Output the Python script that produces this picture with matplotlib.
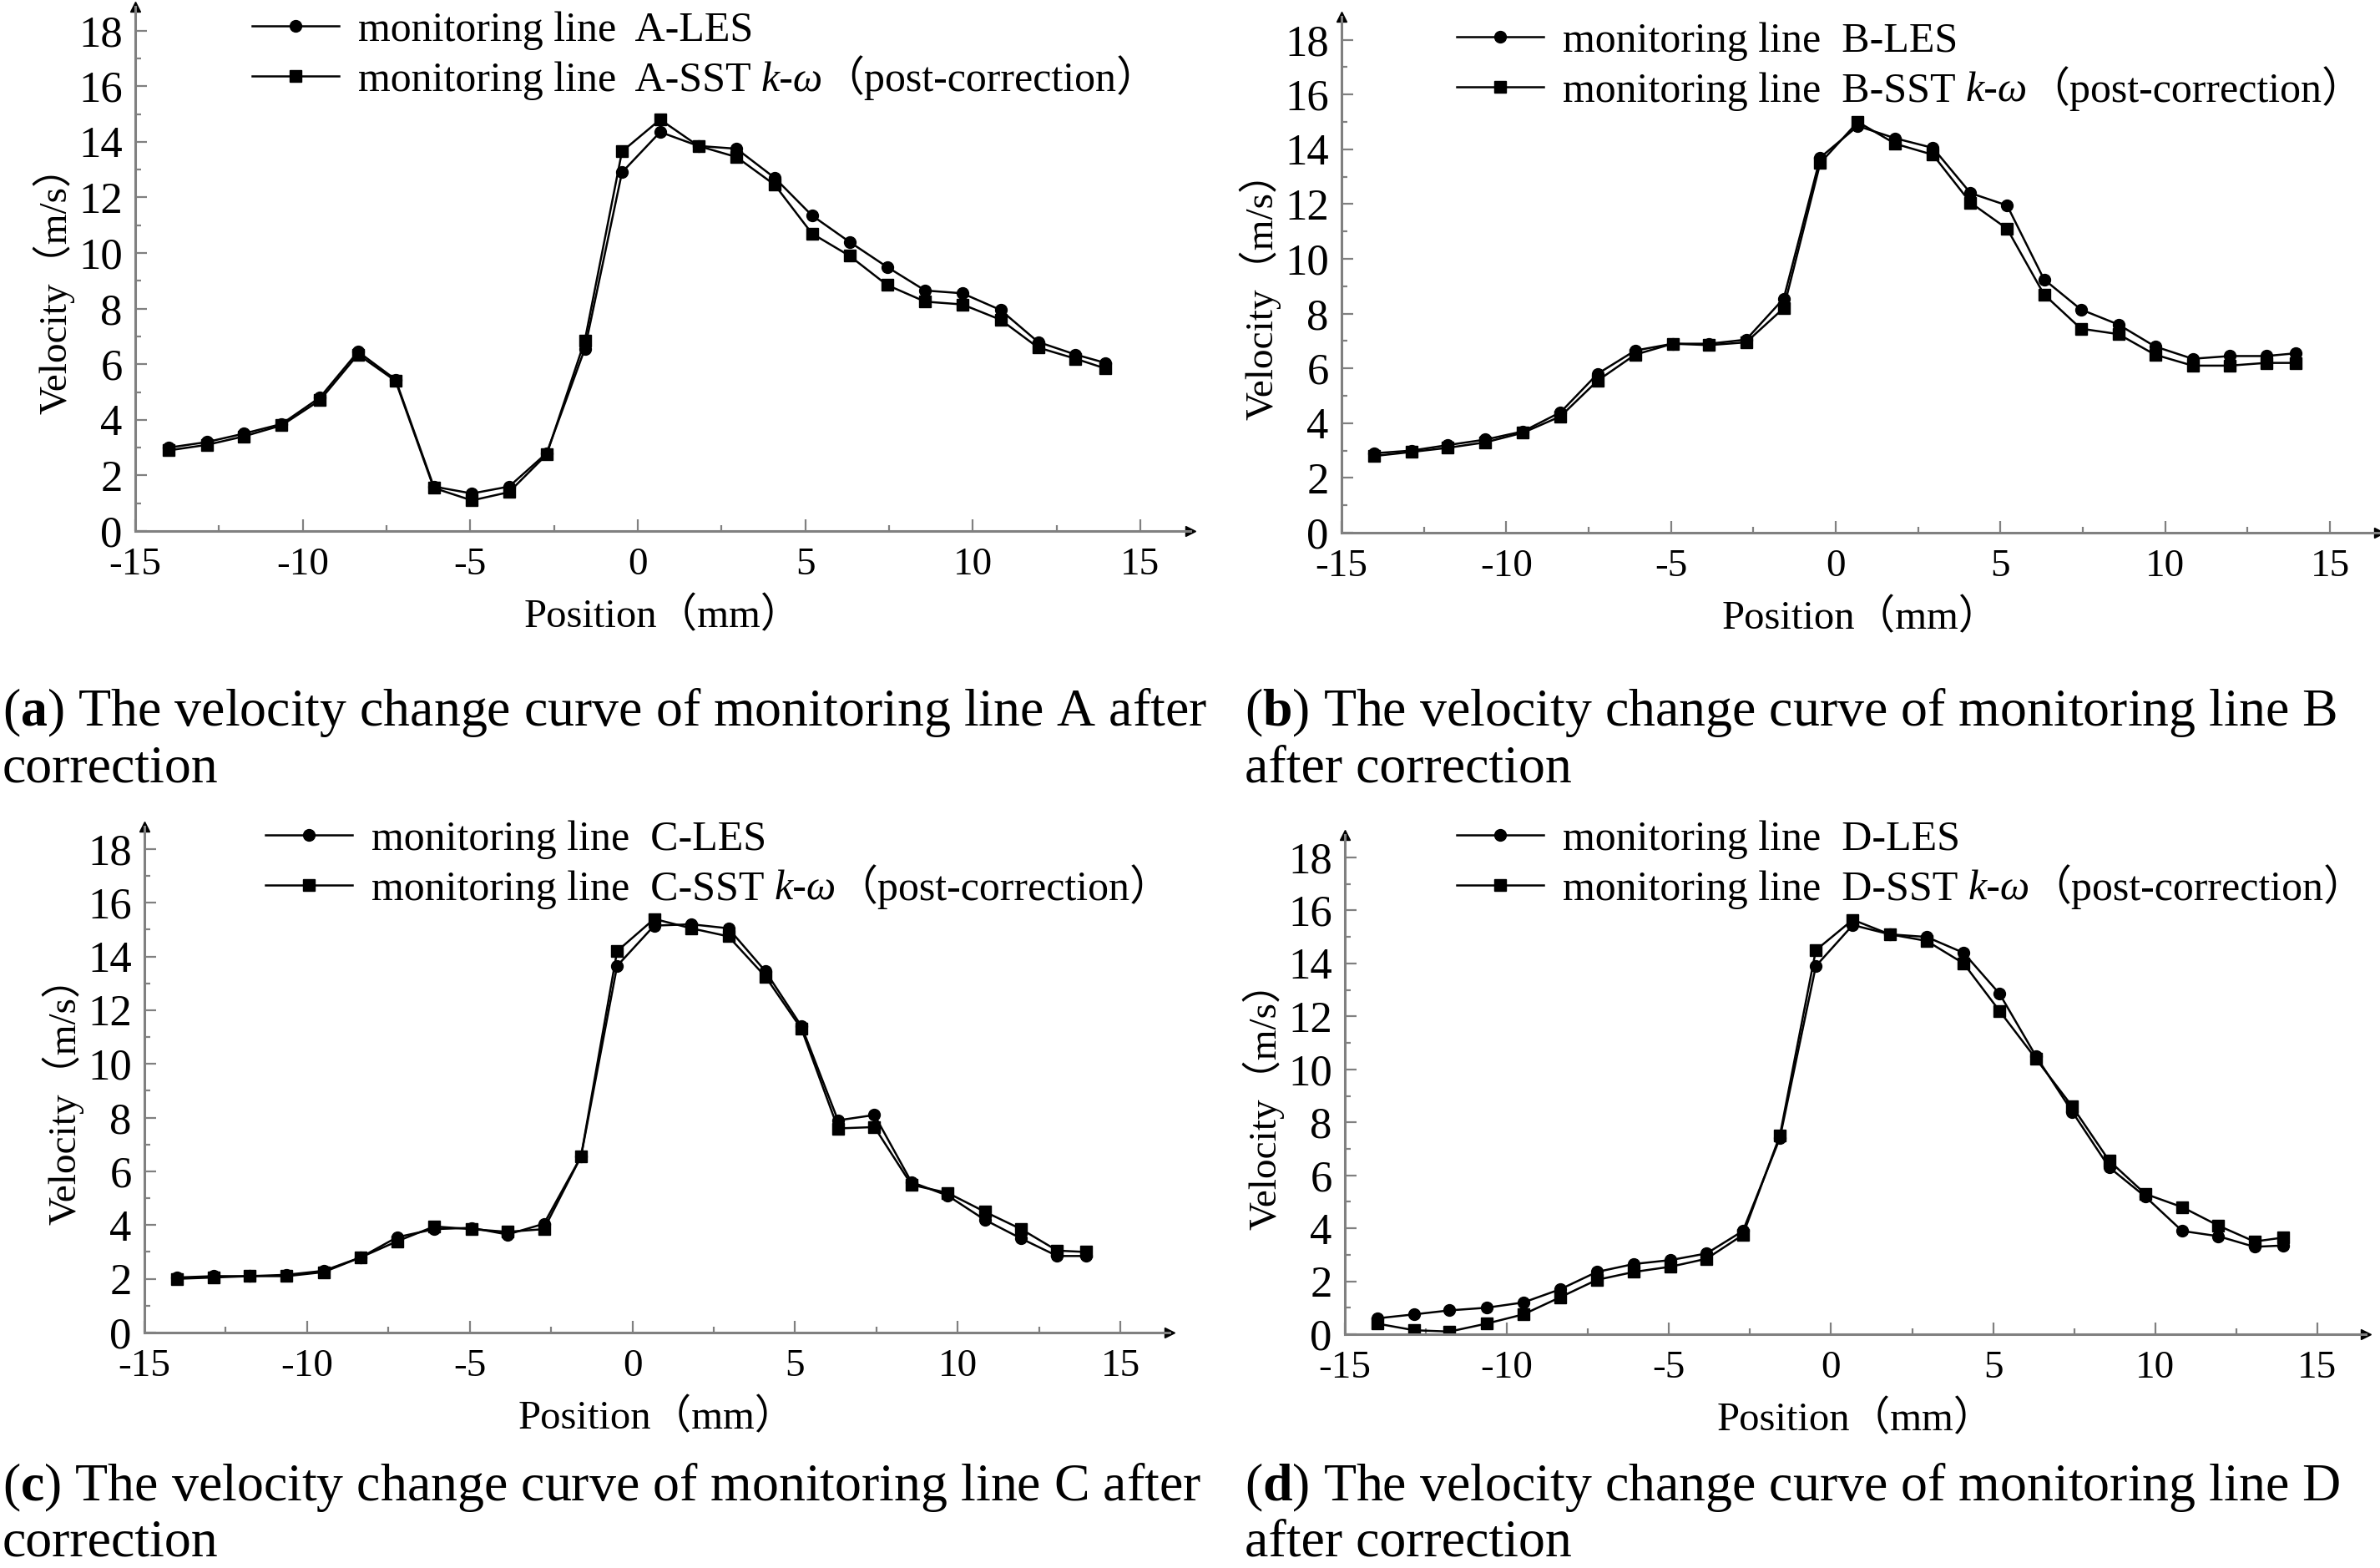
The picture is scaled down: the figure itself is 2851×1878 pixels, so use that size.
import numpy as np
import matplotlib
matplotlib.use('Agg')
import matplotlib.pyplot as plt
from matplotlib.lines import Line2D
from matplotlib.ticker import MultipleLocator

plt.rcParams['font.family'] = ['Liberation Serif', 'Noto Sans CJK SC']
plt.rcParams['mathtext.fontset'] = 'custom'
plt.rcParams['mathtext.rm'] = 'Liberation Serif'
plt.rcParams['mathtext.it'] = 'Liberation Serif:italic'
plt.rcParams['mathtext.bf'] = 'Liberation Serif:bold'

W, H = 2851, 1878

# sampling positions along the monitoring lines (mm)
pos = [-14.0, -12.86, -11.77, -10.63, -9.49, -8.35, -7.23, -6.09, -4.95, -3.84,
       -2.72, -1.58, -0.47, 0.67, 1.81, 2.95, 4.09, 5.20, 6.32, 7.44,
       8.58, 9.69, 10.83, 11.95, 13.06, 13.95]

a_les = [3.0, 3.2, 3.5, 3.85, 4.8, 6.45, 5.45, 1.6, 1.35, 1.6,
         2.8, 6.55, 12.9, 14.35, 13.85, 13.75, 12.7, 11.35, 10.4, 9.5,
         8.65, 8.55, 7.95, 6.8, 6.35, 6.05]
a_sst = [2.9, 3.1, 3.4, 3.8, 4.7, 6.35, 5.4, 1.55, 1.1, 1.4,
         2.75, 6.85, 13.65, 14.8, 13.85, 13.45, 12.45, 10.7, 9.9, 8.85,
         8.25, 8.15, 7.6, 6.6, 6.2, 5.85]

b_les = [2.9, 3.0, 3.2, 3.4, 3.7, 4.4, 5.8, 6.65, 6.9, 6.9,
         7.05, 8.55, 13.7, 14.85, 14.4, 14.05, 12.4, 11.95, 9.25, 8.15,
         7.6, 6.8, 6.35, 6.45, 6.45, 6.55]
b_sst = [2.8, 2.95, 3.1, 3.3, 3.65, 4.25, 5.55, 6.5, 6.9, 6.85,
         6.95, 8.2, 13.5, 15.0, 14.2, 13.8, 12.05, 11.1, 8.7, 7.45,
         7.25, 6.5, 6.1, 6.1, 6.2, 6.2]

c_les = [2.05, 2.1, 2.1, 2.15, 2.3, 2.8, 3.55, 3.85, 3.9, 3.65,
         4.05, 6.55, 13.65, 15.15, 15.2, 15.05, 13.45, 11.4, 7.9, 8.1,
         5.6, 5.1, 4.2, 3.5, 2.85, 2.85]
c_sst = [2.0, 2.05, 2.1, 2.1, 2.25, 2.8, 3.4, 3.95, 3.85, 3.75,
         3.85, 6.55, 14.2, 15.4, 15.05, 14.75, 13.25, 11.3, 7.6, 7.65,
         5.5, 5.2, 4.5, 3.85, 3.05, 3.0]

d_les = [0.6, 0.75, 0.9, 1.0, 1.2, 1.7, 2.35, 2.65, 2.8, 3.05,
         3.9, 7.4, 13.9, 15.45, 15.1, 15.0, 14.4, 12.85, 10.5, 8.4,
         6.3, 5.2, 3.9, 3.7, 3.3, 3.35]
d_sst = [0.4, 0.15, 0.1, 0.4, 0.75, 1.4, 2.05, 2.35, 2.55, 2.85,
         3.75, 7.5, 14.5, 15.65, 15.1, 14.85, 14.0, 12.2, 10.4, 8.6,
         6.55, 5.3, 4.8, 4.1, 3.5, 3.65]

captions = {
    'a': ('The velocity change curve of monitoring line A after', 'correction'),
    'b': ('The velocity change curve of monitoring line B', 'after correction'),
    'c': ('The velocity change curve of monitoring line C after', 'correction'),
    'd': ('The velocity change curve of monitoring line D', 'after correction'),
}

XMIN, XMAX = -15, 16.5
YMIN, YMAX = 0, 18.85
GRAY = '#808080'


def px(x):
    return x / W


def py(y):
    return 1 - y / H


# letter, les, sst, x(-15) px, px per mm, y(0) px, px per m/s, legend anchor, caption x, caption baselines
panels = [
    ('a', a_les, a_sst, 162, 40.13, 636, 33.3, (302, 31), 3, (869, 937)),
    ('b', b_les, b_sst, 1607, 39.47, 638, 32.8, (1745, 44), 1491, (869, 937)),
    ('c', c_les, c_sst, 173, 38.97, 1596, 32.17, (318, 1000), 3, (1797, 1863)),
    ('d', d_les, d_sst, 1611, 38.83, 1598, 31.72, (1745, 1000), 1491, (1797, 1863)),
]

fig = plt.figure(figsize=(W / 100, H / 100), dpi=100)
extra = []

for letter, les, sst, x0, kx, y0, ky, (hx, hy), cx, (cy1, cy2) in panels:
    w = (XMAX - XMIN) * kx
    h = (YMAX - YMIN) * ky
    ax = fig.add_axes([px(x0), py(y0), w / W, h / H])
    ax.plot(pos, les, '-o', color='k', lw=1.8, ms=10)
    ax.plot(pos, sst, '-s', color='k', lw=1.8, ms=9.5)
    ax.set_xlim(XMIN, XMAX)
    ax.set_ylim(YMIN, YMAX)
    for s in ['top', 'right']:
        ax.spines[s].set_visible(False)
    for s in ['left', 'bottom']:
        ax.spines[s].set_color(GRAY)
        ax.spines[s].set_linewidth(2.2)
    ax.xaxis.set_major_locator(MultipleLocator(5))
    ax.xaxis.set_minor_locator(MultipleLocator(2.5))
    ax.yaxis.set_major_locator(MultipleLocator(2))
    ax.yaxis.set_minor_locator(MultipleLocator(1))
    ax.tick_params(which='both', direction='in', color=GRAY, width=1.6)
    ax.tick_params(which='major', length=10)
    ax.tick_params(which='minor', length=5)
    ax.tick_params(axis='y', labelsize=38, pad=11)
    ax.tick_params(axis='x', labelsize=34, pad=14)
    ax.set_xticks([-15, -10, -5, 0, 5, 10, 15])
    ax.set_xticklabels(['-15', '-10', '-5', '0', '5', '10', '15'])
    # axis arrows
    ax.plot([1], [0], marker='>', color='k', ms=9, transform=ax.get_yaxis_transform(), clip_on=False)
    ax.plot([0], [1], marker='^', color='k', ms=9, transform=ax.transAxes, clip_on=False)
    ax.text(-98 / w, 9, 'Velocity（m/s）', rotation=90, fontsize=34, ha='center', va='center',
            transform=ax.get_yaxis_transform())
    ax.text(0.75, -115 / h, 'Position（mm）', fontsize=35, ha='center', va='baseline',
            transform=ax.get_xaxis_transform())

    # legend
    for i, mk in enumerate(['o', 's']):
        yc = hy + i * 60
        fig.add_artist(Line2D([px(hx), px(hx + 104)], [py(yc), py(yc)], color='k', lw=1.8))
        fig.add_artist(Line2D([px(hx + 52)], [py(yc)], marker=mk, ms=10 if mk == 'o' else 9.5,
                              color='k', ls='none'))
    fig.text(px(hx + 127), py(hy + 18), f'monitoring line  {letter.upper()}-LES', fontsize=36, va='baseline')
    t = fig.text(px(hx + 127), py(hy + 78), f'monitoring line  {letter.upper()}-SST', fontsize=36, va='baseline')
    extra.append((t, hy + 78))

    line1, line2 = captions[letter]
    fig.text(px(cx), py(cy1), rf'($\mathbf{{{letter}}}$) ' + line1, fontsize=46, va='baseline')
    fig.text(px(cx), py(cy2), line2, fontsize=46, va='baseline')

# rest of the SST legend label: italic k-omega and the bracketed note
fig.canvas.draw()
r = fig.canvas.get_renderer()
for t, yb in extra:
    x1 = t.get_window_extent(r).x1 + 12
    t2 = fig.text(px(x1), py(yb), 'k-ω', fontsize=36, style='italic', va='baseline')
    fig.canvas.draw()
    x2 = t2.get_window_extent(r).x1
    fig.text(px(x2), py(yb), '（post-correction）', fontsize=36, va='baseline')

fig.savefig('out.png', dpi=100)
